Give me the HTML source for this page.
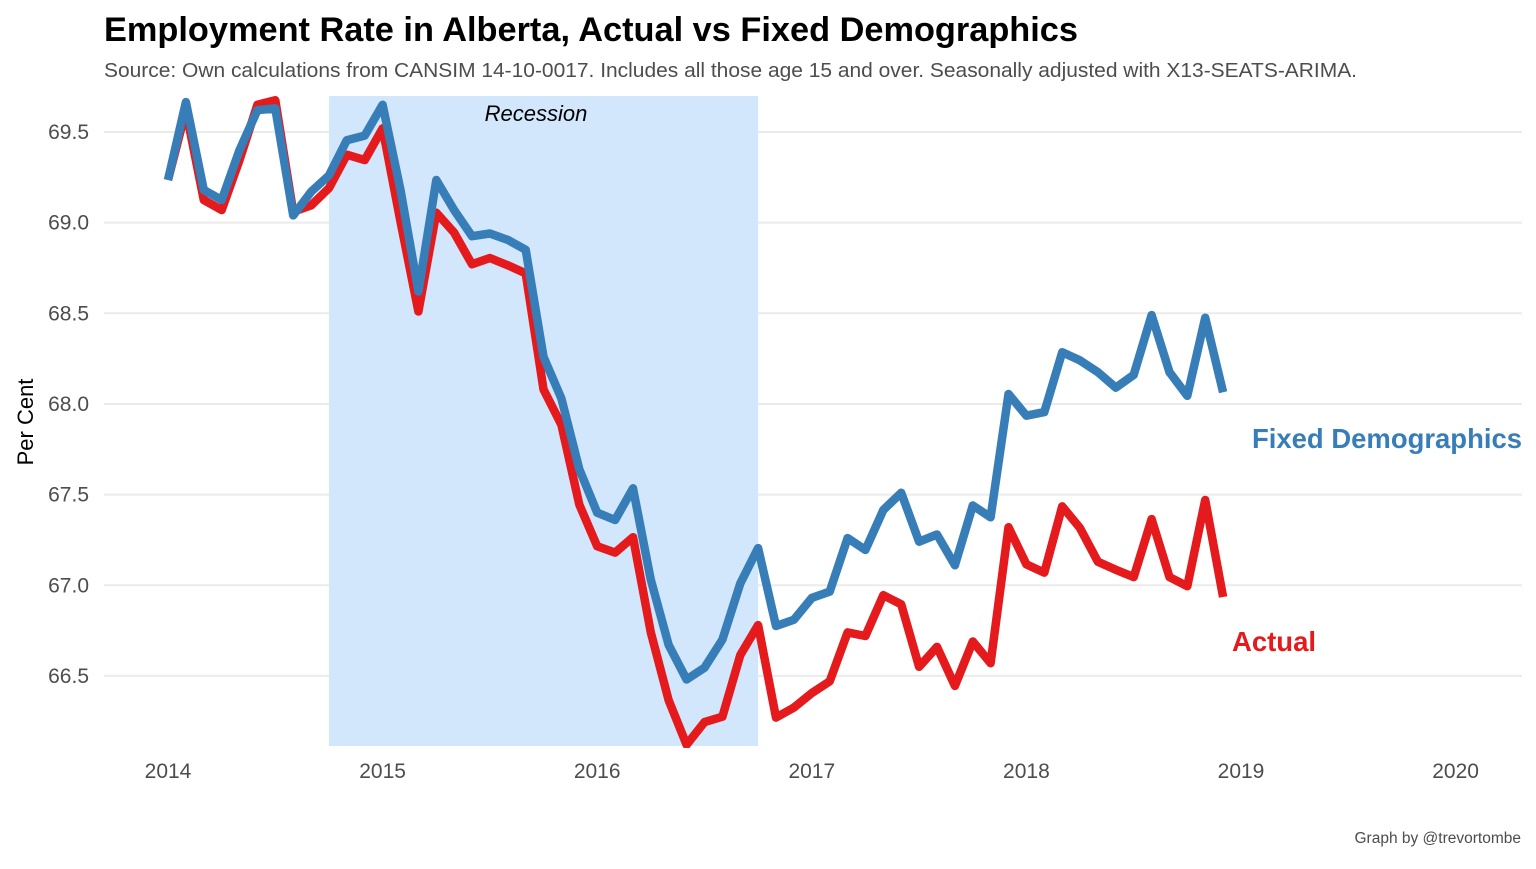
<!DOCTYPE html>
<html><head><meta charset="utf-8"><style>
body{margin:0;background:#fff;}
svg text{font-family:"Liberation Sans",Arial,sans-serif;}
</style></head><body>
<svg width="1536" height="864" xmlns="http://www.w3.org/2000/svg">
<defs><clipPath id="pc"><rect x="100" y="96" width="1430" height="652"/></clipPath></defs>
<g id="grid"></g>
<rect id="rec" fill="#d2e7fc"/>
<text id="rect-label" x="536" y="121" text-anchor="middle" font-style="italic" font-size="22" fill="#000">Recession</text>
<g id="lines" clip-path="url(#pc)"></g>
<g id="ticks"></g>
<text x="104" y="41" font-size="34" font-weight="bold" fill="#000" textLength="974" lengthAdjust="spacingAndGlyphs">Employment Rate in Alberta, Actual vs Fixed Demographics</text>
<text x="104" y="77" font-size="20.5" fill="#4d4d4d" textLength="1253" lengthAdjust="spacingAndGlyphs">Source: Own calculations from CANSIM 14-10-0017. Includes all those age 15 and over. Seasonally adjusted with X13-SEATS-ARIMA.</text>
<text transform="translate(33,422) rotate(-90)" text-anchor="middle" font-size="22" fill="#000">Per Cent</text>
<text x="1252" y="448" font-size="27.5" font-weight="bold" fill="#377eb8" textLength="270" lengthAdjust="spacingAndGlyphs">Fixed Demographics</text>
<text x="1232" y="651" font-size="27.5" font-weight="bold" fill="#e41a1c">Actual</text>
<text x="1521" y="843" text-anchor="end" font-size="15.5" fill="#4d4d4d">Graph by @trevortombe</text>
</svg>
<script>
const yTicks=[66.5,67.0,67.5,68.0,68.5,69.0,69.5];
const xTickYears=[2014,2015,2016,2017,2018,2019,2020];
const recession=[2014+9/12,2016+9/12];
const actual=[69.235,69.62,69.125,69.07,69.345,69.65,69.675,69.06,69.095,69.19,69.375,69.345,69.52,69.005,68.51,69.055,68.945,68.77,68.805,68.765,68.72,68.08,67.885,67.445,67.215,67.18,67.265,66.74,66.365,66.12,66.245,66.275,66.615,66.78,66.27,66.325,66.405,66.47,66.74,66.72,66.945,66.895,66.55,66.66,66.445,66.69,66.57,67.32,67.115,67.07,67.435,67.315,67.13,67.085,67.045,67.365,67.045,66.995,67.47,66.935];
const fixedDemo=[69.235,69.665,69.18,69.125,69.40,69.62,69.63,69.04,69.17,69.26,69.455,69.48,69.65,69.18,68.62,69.235,69.07,68.925,68.94,68.905,68.85,68.26,68.03,67.64,67.40,67.36,67.535,67.03,66.67,66.48,66.545,66.70,67.01,67.205,66.775,66.81,66.93,66.965,67.26,67.195,67.415,67.51,67.24,67.28,67.11,67.44,67.375,68.055,67.935,67.955,68.285,68.24,68.175,68.09,68.16,68.49,68.175,68.045,68.475,68.065];
const NS='http://www.w3.org/2000/svg';
function X(t){return 168+(t-2014)*214.6;}
function Y(v){return 132+(69.5-v)*181.3;}
function mk(tag,attrs,parent){const e=document.createElementNS(NS,tag);for(const k in attrs)e.setAttribute(k,attrs[k]);parent.appendChild(e);return e;}
const grid=document.getElementById('grid'),ticks=document.getElementById('ticks');
yTicks.forEach(v=>{
 const l=mk('line',{x1:104,x2:1522,y1:Y(v),y2:Y(v),stroke:'#ebebeb','stroke-width':2},grid);
 
 
 const t=mk('text',{x:89,y:Y(v)+7,'text-anchor':'end','font-size':21,fill:'#4d4d4d'},ticks);
 t.textContent=v.toFixed(1);
 
 
});
xTickYears.forEach(yr=>{
 const t=mk('text',{x:X(yr),y:778,'text-anchor':'middle','font-size':21,fill:'#4d4d4d'},ticks);
 t.textContent=yr;
 
 
});
const r=document.getElementById('rec');
r.setAttribute('x',X(recession[0]));r.setAttribute('width',X(recession[1])-X(recession[0]));
r.setAttribute('y',96);r.setAttribute('height',650);
const lines=document.getElementById('lines');
function draw(arr,color,name){
 const pts=arr.map((v,i)=>X(2014+i/12).toFixed(1)+','+Y(v).toFixed(1)).join(' ');
 const p=mk('polyline',{points:pts,fill:'none',stroke:color,'stroke-width':8.5,'stroke-linejoin':'round'},lines);
 
 
}
draw(actual,'#e41a1c','actual-line');
draw(fixedDemo,'#377eb8','fixed-demographics-line');
</script>
</body></html>
